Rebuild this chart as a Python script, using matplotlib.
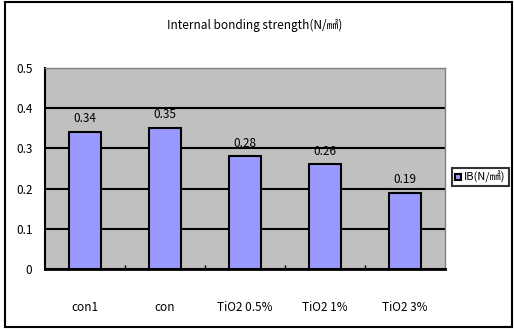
import matplotlib.pyplot as plt
from matplotlib.patches import Rectangle

plt.rcParams['font.family'] = ['Noto Sans CJK KR', 'DejaVu Sans']

categories = ['con1', 'con', 'TiO2 0.5%', 'TiO2 1%', 'TiO2 3%']
ib_values = [0.34, 0.35, 0.28, 0.26, 0.19]
value_labels = ['0.34', '0.35', '0.28', '0.26', '0.19']

fig = plt.figure(figsize=(5.14, 3.29), dpi=100)
ax = fig.add_axes([45 / 514, 1 - 269 / 329, 400 / 514, 201 / 329])

ax.set_facecolor('#C0C0C0')
x = range(len(categories))
bars = ax.bar(x, ib_values, width=0.39, color='#9999FF', edgecolor='black',
              linewidth=1.5, zorder=3, label='IB(N/㎟)')
for xi, v, t in zip(x, ib_values, value_labels):
    ax.text(xi, v + 0.017, t, ha='center', va='bottom', fontsize=8.5, zorder=4)

ax.set_xlim(-0.5, len(categories) - 0.5)
ax.set_ylim(0, 0.5)
ax.set_yticks([0, 0.1, 0.2, 0.3, 0.4, 0.5])
ax.set_yticklabels(['0', '0.1', '0.2', '0.3', '0.4', '0.5'], fontsize=8.5)
ax.yaxis.grid(True, color='black', linewidth=1.5, zorder=1)
ax.set_axisbelow(True)
ax.tick_params(axis='y', length=0, pad=9)
ax.set_xticks(list(x))
ax.set_xticklabels(categories, fontsize=8.5)
ax.tick_params(axis='x', length=0, pad=23)
ax.set_xticks([i + 0.5 for i in range(len(categories) - 1)], minor=True)
ax.tick_params(axis='x', which='minor', direction='in', length=3, width=1)
for s in ['top', 'right']:
    ax.spines[s].set_color('#808080')
    ax.spines[s].set_linewidth(1)
ax.spines['left'].set_linewidth(1.5)
ax.spines['bottom'].set_linewidth(2)

fig.text(255 / 514, 1 - 25 / 329, 'Internal bonding strength(N/㎟)',
         ha='center', va='center', fontsize=8.5)

leg = fig.legend(handles=[bars], labels=['IB(N/㎟)'], loc='center left',
                 bbox_to_anchor=(452 / 514, 1 - 177 / 329), fontsize=8,
                 frameon=True, fancybox=False, edgecolor='black',
                 handlelength=0.5, handleheight=0.5, handletextpad=0.3,
                 borderpad=0.3, borderaxespad=0)
leg.get_frame().set_linewidth(1.5)

fig.patches.append(Rectangle((5 / 514, 2 / 329), 507 / 514, 325 / 329,
                             transform=fig.transFigure, fill=False,
                             edgecolor='black', linewidth=1.5))

fig.savefig('out.png', dpi=100)
